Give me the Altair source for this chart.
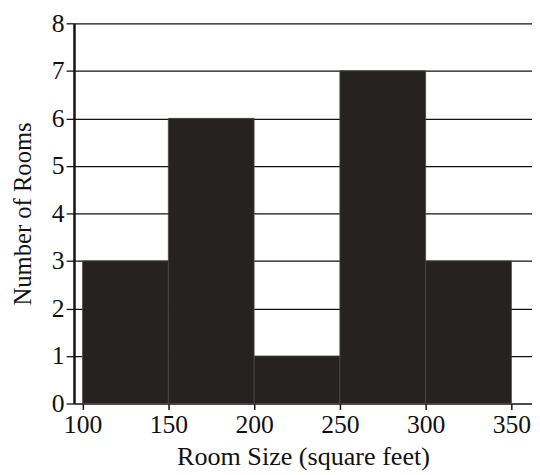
import altair as alt
import pandas as pd

bin_start = [100, 150, 200, 250, 300]
bin_end = [150, 200, 250, 300, 350]
counts = [3, 6, 1, 7, 3]

df = pd.DataFrame({"start": bin_start, "end": bin_end, "count": counts})

FONT = "Liberation Serif"

chart = alt.Chart(df).mark_rect(
    color="#262222", stroke="#4a4646", strokeWidth=0.8
).encode(
    x=alt.X("start:Q",
            scale=alt.Scale(domain=[95, 362], nice=False, zero=False),
            axis=alt.Axis(title="Room Size (square feet)", values=[100, 150, 200, 250, 300, 350],
                          grid=False, domain=False, tickSize=6, tickColor="#111",
                          tickWidth=1.5, labelPadding=2, titlePadding=7,
                          titleFontSize=26.5)),
    x2="end:Q",
    y=alt.Y("count:Q",
            scale=alt.Scale(domain=[0, 8], nice=False),
            axis=alt.Axis(title="Number of Rooms", values=list(range(0, 9)),
                          grid=True, gridColor="#111", gridWidth=1.3, gridOpacity=1,
                          domain=True, domainColor="#111", domainWidth=2.5,
                          tickSize=8, tickColor="#111", tickWidth=1.3,
                          labelPadding=2, titlePadding=16)),
    y2=alt.datum(0),
).properties(
    width=465, height=386,
    autosize=alt.AutoSizeParams(type="none"),
    padding={"left": 67, "top": 12, "right": 0, "bottom": 68},
).configure_axis(
    labelFont=FONT, titleFont=FONT, labelFontSize=26, titleFontSize=25,
    labelColor="#111", titleColor="#111", titleFontWeight="normal",
).configure_view(stroke=None)

chart.save("out.html", embed_options={"renderer": "svg", "actions": False})
